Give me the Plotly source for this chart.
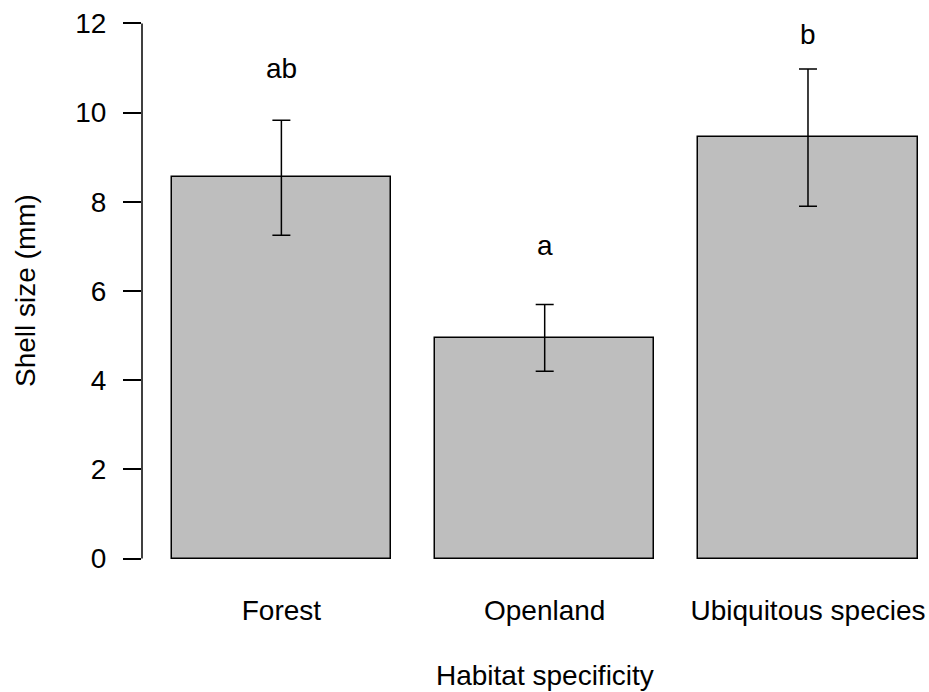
import plotly.graph_objects as go

categories = ["Forest", "Openland", "Ubiquitous species"]
means = [8.55, 4.94, 9.46]
upper = [9.83, 5.70, 10.98]
lower = [7.25, 4.20, 7.90]
letters = ["ab", "a", "b"]
letter_y = [10.99, 7.02, 11.76]
y_ticks = [0, 2, 4, 6, 8, 10, 12]

# R barplot layout: width 1, space 0.2
centers = [0.7 + 1.2 * i for i in range(len(categories))]
err_plus = [u - m for u, m in zip(upper, means)]
err_minus = [m - l for m, l in zip(means, lower)]

FONT = "Liberation Sans, Arial, Helvetica, sans-serif"
FS = 28

fig = go.Figure()
fig.add_trace(go.Bar(
    x=centers, y=means, width=1.0,
    marker=dict(color="#BEBEBE", line=dict(color="black", width=1.5)),
    error_y=dict(type="data", symmetric=False, array=err_plus, arrayminus=err_minus,
                 color="black", thickness=1.5, width=9),
    showlegend=False, hoverinfo="skip",
))

for cx, lt, ly in zip(centers, letters, letter_y):
    fig.add_annotation(x=cx, y=ly, xref="x", yref="y", text=lt, showarrow=False,
                       xanchor="center", yanchor="middle",
                       font=dict(family=FONT, size=FS, color="black"))

# axis titles
fig.add_annotation(x=1.9, xref="x", y=(580 - 676) / 578, yref="paper", text="Habitat specificity",
                   showarrow=False, xanchor="center", yanchor="middle",
                   font=dict(family=FONT, size=FS, color="black"))
fig.add_annotation(x=(25 - 142) / 787, xref="paper", y=0.5, yref="paper",
                   text="Shell size (mm)", textangle=-90, showarrow=False,
                   xanchor="center", yanchor="middle",
                   font=dict(family=FONT, size=FS, color="black"))

# R-style y axis line spanning only tick range
fig.add_shape(type="line", xref="paper", x0=0, x1=0, yref="y",
              y0=min(y_ticks), y1=max(y_ticks), line=dict(color="black", width=1.5))

fig.update_layout(
    width=929, height=692,
    margin=dict(l=142, r=0, t=2, b=112),
    paper_bgcolor="white", plot_bgcolor="white",
    font=dict(family=FONT, size=FS, color="black"),
    xaxis=dict(range=[0.0647, 3.6515], tickvals=centers, ticktext=categories,
               showline=False, showgrid=False, zeroline=False, ticks="",
               ticklabelstandoff=11, fixedrange=True),
    yaxis=dict(range=[-0.48, 12.48], tickvals=y_ticks, ticks="outside", ticklen=18,
               tickwidth=1.5, tickcolor="black", showline=False, showgrid=False,
               zeroline=False, ticklabelstandoff=11, fixedrange=True),
    bargap=0,
)

fig.write_html("out.html")
